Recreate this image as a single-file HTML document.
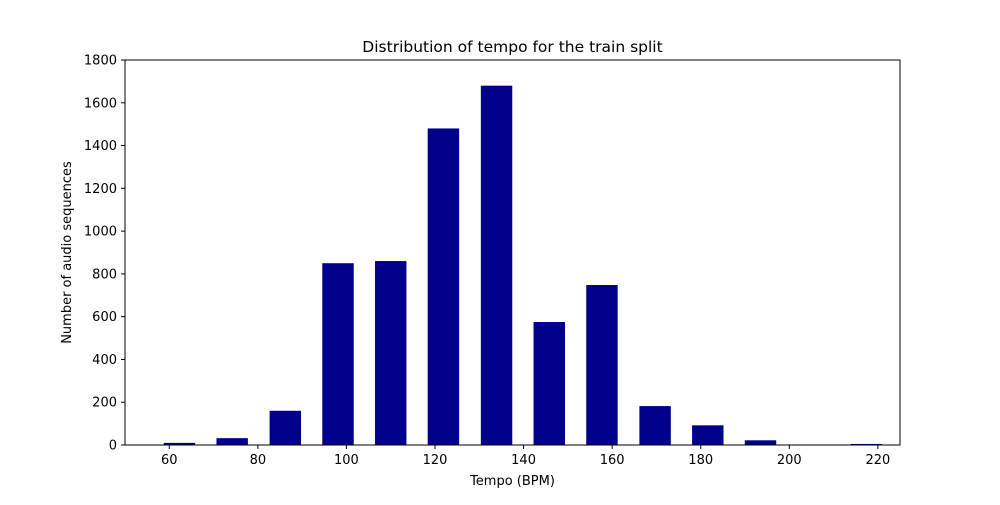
<!DOCTYPE html>
<html><head><meta charset="utf-8"><style>
body{margin:0;background:#fff;font-family:"Liberation Sans","DejaVu Sans",sans-serif;}
svg text{font-family:"DejaVu Sans","Liberation Sans",sans-serif;}
</style></head><body>
<svg id="chart" width="1000" height="500" xmlns="http://www.w3.org/2000/svg"></svg>
<script>
const binCenters=[62.3,74.2,86.2,98.1,110,121.9,133.9,145.8,157.7,169.7,181.6,193.5,205.5,217.4];
const counts=[10,32,160,850,860,1480,1680,575,748,182,92,22,0,5];
const xTicks=[60,80,100,120,140,160,180,200,220];
const yTicks=[0,200,400,600,800,1000,1200,1400,1600,1800];
const L=125,R=900,T=60,B=445,xMin=50,xMax=225,yMax=1800,barW=7.1;
const sx=v=>L+(v-xMin)/(xMax-xMin)*(R-L);
const sy=v=>B-v/yMax*(B-T);
const svg=document.getElementById('chart');
const NS='http://www.w3.org/2000/svg';
function mk(t,a,txt){const e=document.createElementNS(NS,t);for(const k in a)e.setAttribute(k,a[k]);if(txt!==undefined)e.textContent=txt;svg.appendChild(e);return e;}
binCenters.forEach((c,i)=>{
 const r=mk('rect',{x:sx(c-barW/2),y:sy(counts[i]),width:sx(c+barW/2)-sx(c-barW/2),height:B-sy(counts[i]),fill:'#00008b'});
 
 
});
const frame=mk('rect',{x:L,y:T,width:R-L,height:B-T,fill:'none',stroke:'#000','stroke-width':1});


xTicks.forEach(v=>{
 mk('line',{x1:sx(v),x2:sx(v),y1:B,y2:B+4,stroke:'#000'});
 const t=mk('text',{x:sx(v),y:B+19,'text-anchor':'middle','font-size':13},v);
 
 
});
yTicks.forEach(v=>{
 mk('line',{x1:L-4,x2:L,y1:sy(v),y2:sy(v),stroke:'#000'});
 const t=mk('text',{x:L-8,y:sy(v)+4.5,'text-anchor':'end','font-size':13},v);
 
 
});
const ti=mk('text',{x:(L+R)/2,y:52,'text-anchor':'middle','font-size':15.5},'Distribution of tempo for the train split');


const xl=mk('text',{x:(L+R)/2,y:485,'text-anchor':'middle','font-size':13},'Tempo (BPM)');


const yl=mk('text',{x:71,y:(T+B)/2,'text-anchor':'middle','font-size':13,transform:'rotate(-90 71 '+((T+B)/2)+')'},'Number of audio sequences');


</script>
</body></html>
